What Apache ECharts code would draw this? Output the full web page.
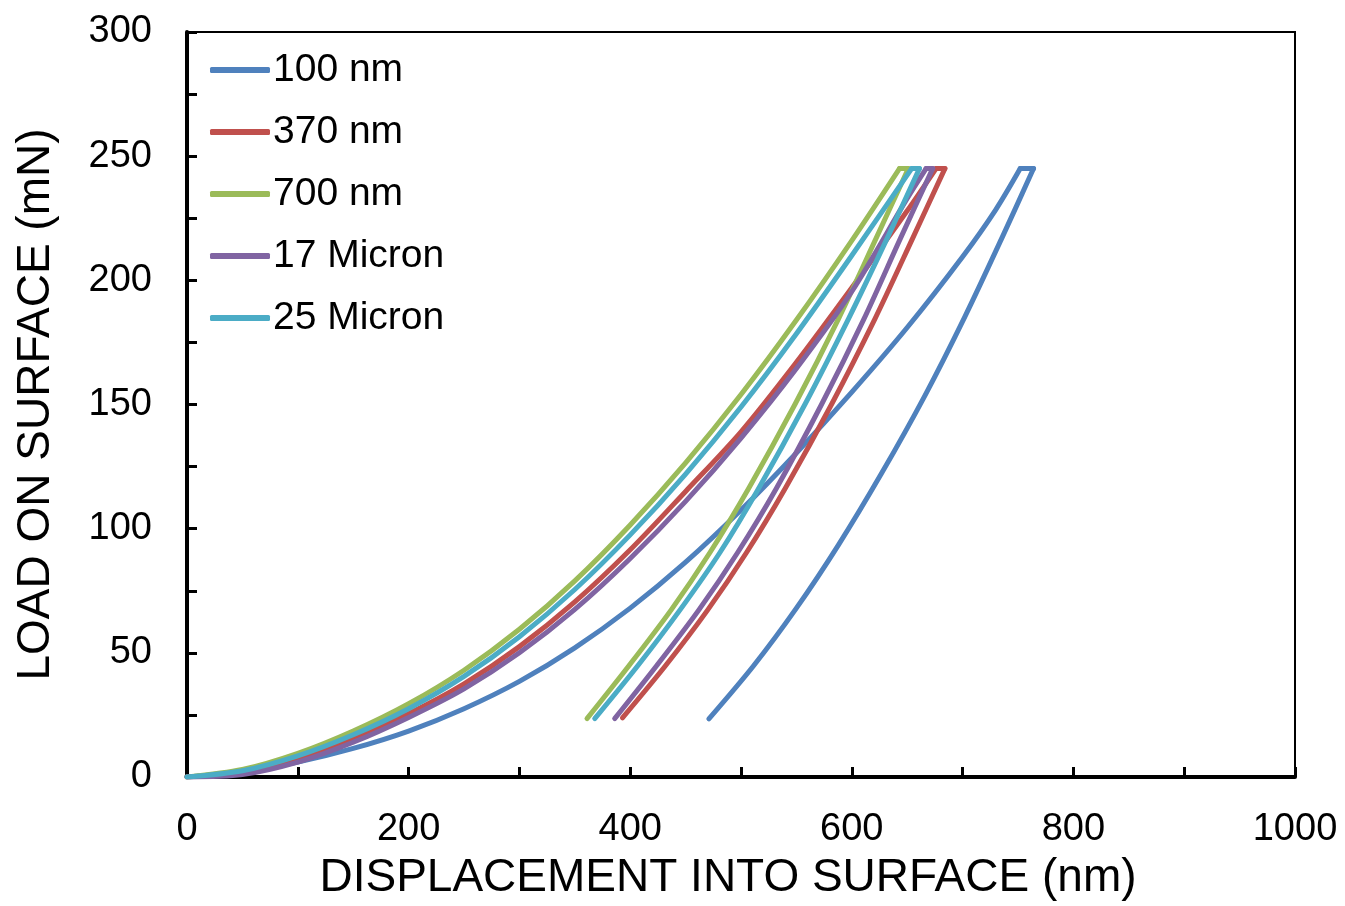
<!DOCTYPE html>
<html>
<head>
<meta charset="utf-8">
<script src="https://cdn.jsdelivr.net/npm/echarts/dist/echarts.min.js"></script>
<style>
html,body{margin:0;padding:0;background:#fff;}
#chart{width:1345px;height:906px;}
</style>
</head>
<body>
<div id="chart"></div>
<script>
// Series names
const seriesNames = ['100 nm', '370 nm', '700 nm', '17 Micron', '25 Micron'];

// Tick labels
const xTickLabels = [0, 200, 400, 600, 800, 1000];
const yTickLabels = [0, 50, 100, 150, 200, 250, 300];

// 100 nm  [displacement nm, load mN]
const load100 = [[0,0],[50,2],[100,6],[150,11.5],[200,18.5],[250,27.5],[300,38.5],[350,52],[400,68],[450,86.5],[500,107.5],[550,130.5],[600,155],[650,181],[700,209.5],[730,228.5],[752,245]];
const unload100 = [[764,245],[735,216.6],[702,185.3],[666,153.6],[627,122.4],[588,93.5],[550,68],[511,44.6],[471,23.4]];

// 370 nm
const load370 = [[0,0],[50,2],[100,7.5],[150,15.5],[200,25.5],[250,37.5],[300,52.5],[350,70.5],[400,91.5],[450,115],[500,139],[550,167],[600,197],[650,228],[676,245]];
const unload370 = [[684,245],[655,217],[621,184.6],[582,150.3],[540,116.3],[505,90.4],[470,67.3],[432,44.9],[393,23.8]];

// 700 nm
const load700 = [[0,0],[50,3],[100,9.5],[150,18.5],[200,29.5],[250,43],[300,59.5],[350,79],[400,101.5],[450,126.5],[500,154],[550,184],[600,216],[643,245]];
const unload700 = [[651,245],[622,217],[588,184.5],[549,150.3],[507,116.3],[472,90.4],[437,67.3],[399,44.9],[361,23.5]];

// 17 Micron
const load17 = [[0,0],[50,1],[100,6],[150,14],[200,24],[250,35.5],[300,50],[350,67.5],[400,88],[450,111],[500,136.5],[550,164.5],[600,195.5],[650,233],[667,245]];
const unload17 = [[673,245],[644,217],[611,184.5],[573,150.3],[532,116.3],[497,90.4],[462,67.3],[424,44.9],[386,23.5]];

// 25 Micron
const load25 = [[0,0],[50,2.5],[100,8.5],[150,17],[200,27.5],[250,40.5],[300,56.5],[350,75.5],[400,97.5],[450,122],[500,149],[550,178.5],[600,210],[654,245]];
const unload25 = [[661,245],[632,217],[597,184.5],[558,150.3],[516,116.3],[481,90.4],[445,67.3],[407,44.9],[368,23.5]];

const loads = [load100, load370, load700, load17, load25];
const unloads = [unload100, unload370, unload700, unload17, unload25];
const colors = ['#4F81BD', '#C0504D', '#9BBB59', '#8064A2', '#4BACC6'];

const FONT = "'Liberation Sans', Arial, sans-serif";
const chart = echarts.init(document.getElementById('chart'), null, {renderer: 'canvas'});

const series = [];
seriesNames.forEach((name, i) => {
  const ld = loads[i], ul = unloads[i];
  const parts = [
    {data: ld, smooth: 0.3},
    {data: [ld[ld.length - 1], ul[0]], smooth: false},
    {data: ul, smooth: 0.3}
  ];
  parts.forEach(p => series.push({
    name: name,
    type: 'line',
    data: p.data,
    showSymbol: false,
    symbol: 'none',
    smooth: p.smooth,
    lineStyle: {width: 5, color: colors[i], cap: 'round', join: 'round'},
    itemStyle: {color: colors[i]},
    z: 2 + i
  }));
});

chart.setOption({
  animation: false,
  backgroundColor: '#fff',
  color: colors,
  grid: {
    left: 187, top: 32, width: 1108, height: 748,
    show: true, borderColor: '#000', borderWidth: 2, backgroundColor: 'transparent'
  },
  legend: {
    orient: 'vertical',
    left: 210, top: 50,
    padding: 0,
    itemWidth: 60, itemHeight: 6, itemGap: 22,
    icon: 'roundRect',
    textStyle: {fontFamily: FONT, fontSize: 39, color: '#000', lineHeight: 40, padding: [0, 0, 0, -2]},
    data: seriesNames
  },
  xAxis: {
    type: 'value', min: 0, max: 1000, interval: 100,
    name: 'DISPLACEMENT INTO SURFACE (nm)',
    nameLocation: 'middle', nameGap: 78,
    nameTextStyle: {fontFamily: FONT, fontSize: 46, color: '#000', padding: [0, 26, 0, 0]},
    axisLine: {show: true, onZero: false, lineStyle: {color: '#000', width: 4}},
    axisTick: {show: true, inside: true, length: 10, lineStyle: {color: '#000', width: 3}},
    axisLabel: {
      fontFamily: FONT, fontSize: 38, color: '#000', margin: 34,
      formatter: v => xTickLabels.includes(v) ? String(v) : ''
    },
    splitLine: {show: false}
  },
  yAxis: {
    type: 'value', min: 0, max: 300, interval: 25,
    name: 'LOAD ON SURFACE (mN)',
    nameLocation: 'middle', nameGap: 128,
    nameTextStyle: {fontFamily: FONT, fontSize: 46, color: '#000'},
    axisLine: {show: true, onZero: false, lineStyle: {color: '#000', width: 4}},
    axisTick: {show: true, inside: true, length: 10, lineStyle: {color: '#000', width: 3}},
    axisLabel: {
      fontFamily: FONT, fontSize: 38, color: '#000', margin: 35,
      formatter: v => yTickLabels.includes(v) ? String(v) : ''
    },
    splitLine: {show: false}
  },
  series: series
});
</script>
</body>
</html>
